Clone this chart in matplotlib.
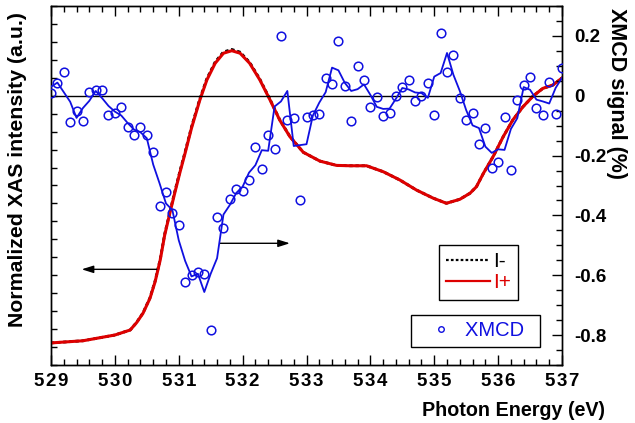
import matplotlib
matplotlib.use("Agg")
import matplotlib.pyplot as plt
from matplotlib.lines import Line2D
from matplotlib.ticker import MultipleLocator, FuncFormatter

# ---- XMCD difference signal (%), one point every 0.1 eV from 529 to 537 eV ----
xmcd_energy = [529.0 + 0.1 * i for i in range(81)]
xmcd_signal = [
    0.009, 0.042, 0.081, -0.088, -0.052, -0.083, 0.011, 0.020, 0.018, -0.063,
    -0.057, -0.039, -0.103, -0.130, -0.106, -0.131, -0.189, -0.369, -0.321, -0.391,
    -0.433, -0.624, -0.600, -0.589, -0.597, -0.783, -0.406, -0.441, -0.344, -0.311,
    -0.319, -0.282, -0.171, -0.244, -0.130, -0.178, 0.200, -0.080, -0.073, -0.350,
    -0.071, -0.066, -0.062, 0.059, 0.040, 0.184, 0.032, -0.086, 0.101, 0.051,
    -0.038, -0.004, -0.069, -0.058, -0.001, 0.029, 0.051, -0.016, -0.001, 0.043,
    -0.063, 0.211, 0.081, 0.136, -0.007, -0.080, -0.057, -0.160, -0.107, -0.242,
    -0.223, -0.072, -0.249, -0.013, 0.036, 0.064, -0.041, -0.063, 0.046, -0.060,
    0.092,
]
# smoothed XMCD trace
xmcd_smooth = [
    0.030, 0.044, 0.012, -0.020, -0.074, -0.041, -0.017, 0.016, -0.008, -0.034,
    -0.053, -0.066, -0.091, -0.113, -0.122, -0.142, -0.230, -0.293, -0.360, -0.382,
    -0.483, -0.552, -0.604, -0.595, -0.656, -0.595, -0.543, -0.397, -0.365, -0.325,
    -0.304, -0.257, -0.232, -0.182, -0.184, -0.036, -0.019, 0.016, -0.168, -0.165,
    -0.162, -0.066, -0.023, 0.012, 0.094, 0.085, 0.043, 0.016, 0.022, 0.038,
    0.003, -0.037, -0.044, -0.043, -0.010, 0.026, 0.021, 0.011, 0.009, -0.007,
    0.064, 0.076, 0.143, 0.070, 0.016, -0.048, -0.099, -0.108, -0.170, -0.191,
    -0.179, -0.181, -0.111, -0.075, 0.029, 0.020, -0.013, -0.019, -0.026, 0.026,
    0.060,
]

# ---- normalized XAS spectra for the two helicities ----
xas_energy = [
    529.00, 529.50, 530.00, 530.24, 530.34, 530.44, 530.55, 530.63, 530.71, 530.78,
    530.86, 530.94, 531.02, 531.10, 531.20, 531.33, 531.44, 531.57, 531.70, 531.83,
    531.96, 532.11, 532.27, 532.43, 532.58, 532.74, 532.95, 533.21, 533.47, 533.68,
    533.94, 534.20, 534.46, 534.72, 534.98, 535.19, 535.40, 535.56, 535.66, 535.77,
    535.92, 536.08, 536.23, 536.39, 536.55, 536.70, 536.86, 537.00,
]
xas_plus = [
    0.123, 0.135, 0.167, 0.195, 0.236, 0.288, 0.372, 0.464, 0.585, 0.724,
    0.845, 0.962, 1.075, 1.181, 1.320, 1.476, 1.588, 1.681, 1.737, 1.751,
    1.737, 1.681, 1.588, 1.476, 1.365, 1.272, 1.185, 1.136, 1.112, 1.110,
    1.110, 1.077, 1.031, 0.975, 0.930, 0.901, 0.923, 0.957, 0.993, 1.068,
    1.160, 1.272, 1.365, 1.439, 1.499, 1.541, 1.560, 1.599,
]
xas_minus = [
    0.123, 0.135, 0.167, 0.195, 0.237, 0.290, 0.375, 0.468, 0.590, 0.730,
    0.851, 0.969, 1.082, 1.188, 1.327, 1.483, 1.595, 1.688, 1.744, 1.758,
    1.743, 1.686, 1.592, 1.479, 1.367, 1.273, 1.185, 1.136, 1.112, 1.110,
    1.110, 1.077, 1.031, 0.975, 0.930, 0.901, 0.923, 0.957, 0.993, 1.068,
    1.160, 1.272, 1.365, 1.439, 1.499, 1.541, 1.560, 1.599,
]

BLUE = "#1010e0"
RED = "#dd0000"
FONT = ["Liberation Sans", "DejaVu Sans"]
plt.rcParams["font.family"] = FONT


def energy_label(val, pos=None):
    # energies are printed with a little extra tracking between digits
    return "\u200a".join("%d" % round(val))


def signal_label(val, pos=None):
    if abs(val) < 1e-9:
        return "0"
    return "%g" % round(val, 2)


fig = plt.figure(figsize=(6.35, 4.23), dpi=100)
ax = fig.add_axes([51 / 635, 58 / 423, 511 / 635, 359 / 423])
ax2 = ax.twinx()

# XAS spectra on the left axis
ax.plot(xas_energy, xas_minus, color="black", ls=(0, (1.2, 1.0)), lw=2.0, zorder=2)
ax.plot(xas_energy, xas_plus, color=RED, lw=2.2, zorder=3)
ax.set_xlim(529, 537)
ax.set_ylim(0, 2.0)
ax.yaxis.set_major_locator(MultipleLocator(0.1))
ax.yaxis.set_major_formatter(FuncFormatter(lambda v, p: ""))
ax.tick_params(axis="y", which="major", direction="in", length=4, width=1)

ax.xaxis.set_major_locator(MultipleLocator(1))
ax.xaxis.set_minor_locator(MultipleLocator(0.2))
ax.xaxis.set_major_formatter(FuncFormatter(energy_label))
ax.tick_params(axis="x", which="major", direction="in", length=7, width=1,
               top=True, pad=6, labelsize=13.5)
ax.tick_params(axis="x", which="minor", direction="in", length=4, width=1, top=True)
for lab in ax.get_xticklabels():
    lab.set_fontweight("bold")

# XMCD on the right axis
ax2.axhline(0, color="black", lw=1.0, zorder=1)
ax2.plot(xmcd_energy, xmcd_smooth, color=BLUE, lw=1.3, zorder=3)
ax2.plot(xmcd_energy, xmcd_signal, ls="none", marker="o", ms=6.2, mfc="none",
         mec=BLUE, mew=1.1, zorder=4)
ax2.set_ylim(-0.9, 0.3)
ax2.yaxis.set_major_locator(MultipleLocator(0.2))
ax2.yaxis.set_minor_locator(MultipleLocator(0.05))
ax2.yaxis.set_major_formatter(FuncFormatter(signal_label))
ax2.tick_params(axis="y", which="major", direction="in", length=7, width=1,
                pad=9, labelsize=13.5)
ax2.tick_params(axis="y", which="minor", direction="in", length=4, width=1)
for lab in ax2.get_yticklabels():
    lab.set_fontweight("bold")

for a in (ax, ax2):
    for sp in a.spines.values():
        sp.set_linewidth(1.0)

# direction arrows pointing to each curve's axis
arrow = dict(arrowstyle="-|>,head_length=0.7,head_width=0.22", color="black",
             lw=1.0, shrinkA=0, shrinkB=0)
ax.annotate("", xy=(529.48, 0.533), xytext=(530.654, 0.533), arrowprops=arrow)
ax.annotate("", xy=(532.74, 0.678), xytext=(531.645, 0.678), arrowprops=arrow)

# legends
h_minus = Line2D([], [], color="black", ls=(0, (1.2, 1.0)), lw=1.6)
h_plus = Line2D([], [], color=RED, lw=1.6)
leg1 = ax.legend([h_minus, h_plus], ["I-", "I+"], loc="upper left",
                 bbox_to_anchor=(439 / 635, 1 - 245 / 423), bbox_transform=fig.transFigure,
                 borderaxespad=0, fancybox=False, edgecolor="black", framealpha=1,
                 fontsize=15, handlelength=2.1, handletextpad=0.15,
                 labelspacing=0.1, borderpad=0.35, labelcolor=["black", RED])
leg1.get_frame().set_linewidth(1.0)

h_x = Line2D([], [], ls="none", marker="o", ms=4, mfc="none", mec=BLUE, mew=1.0)
leg2 = ax2.legend([h_x], ["XMCD\u2002"], loc="upper left",
                  bbox_to_anchor=(411 / 635, 1 - 315 / 423), bbox_transform=fig.transFigure,
                  borderaxespad=0, fancybox=False, edgecolor="black", framealpha=1,
                  fontsize=14.5, handlelength=2.3, handletextpad=0.05,
                  borderpad=0.32, labelcolor=[BLUE])
leg2.get_frame().set_linewidth(1.0)

# axis titles
fig.text(18 / 635, 1 - 170 / 423, "Normalized XAS intensity (a.u.)", rotation=90,
         ha="center", va="center", fontsize=15.3, fontweight="bold")
fig.text(617 / 635, 1 - 94 / 423, "XMCD signal (%)", rotation=270,
         ha="center", va="center", fontsize=15.5, fontweight="bold")
fig.text(605 / 635, 1 - 410 / 423, "Photon Energy (eV)",
         ha="right", va="center", fontsize=14.2, fontweight="bold")

fig.savefig("out.png", dpi=100)
